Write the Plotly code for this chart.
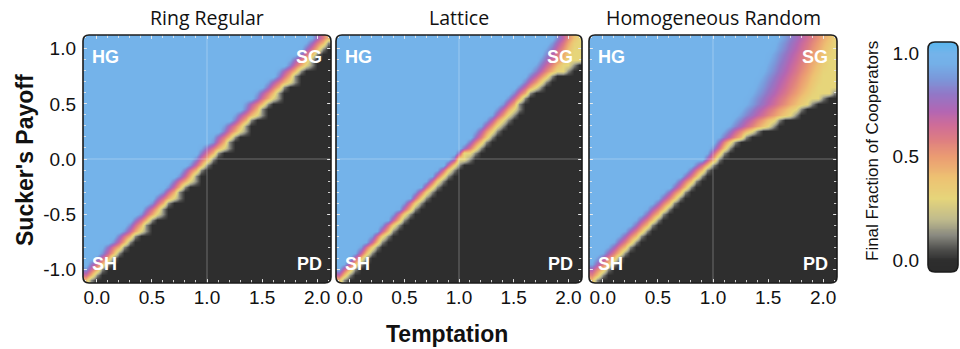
import numpy as np
import plotly.graph_objects as go

# ---------------- data ----------------
# Grid of the simulations: temptation T (columns) and sucker's payoff S (rows)
T_VALUES = [round(-0.10 + 0.05 * i, 2) for i in range(45)]
S_VALUES = [-1.10, -1.05, -1.00, -0.95, -0.90, -0.85, -0.80, -0.75, -0.70, -0.65,
            -0.60, -0.55, -0.50, -0.45, -0.40, -0.35, -0.30, -0.25, -0.20, -0.15,
            -0.10, -0.05, 0.00, 0.05, 0.10, 0.15, 0.20, 0.25, 0.30, 0.35,
            0.40, 0.45, 0.50, 0.55, 0.60, 0.65, 0.70, 0.75, 0.80, 0.85,
            0.90, 0.95, 1.00, 1.05, 1.10]

# per S row: T where full cooperation ends (t1), T where the fraction reaches
# its low level (t2), T where cooperation vanishes (t3), and that low level (v)
ring_t1 = [-0.25, -0.19, -0.13, -0.10, -0.03, 0.02, 0.04, 0.12, 0.15, 0.22,
           0.26, 0.30, 0.37, 0.40, 0.47, 0.50, 0.57, 0.62, 0.65, 0.72,
           0.75, 0.82, 0.86, 0.90, 0.93, 1.02, 1.03, 1.10, 1.12, 1.20,
           1.22, 1.30, 1.31, 1.40, 1.42, 1.49, 1.52, 1.60, 1.62, 1.70,
           1.73, 1.80, 1.84, 1.88, 1.93]
ring_t2 = [-0.07, -0.01, 0.04, 0.09, 0.14, 0.19, 0.24, 0.29, 0.34, 0.40,
           0.44, 0.49, 0.55, 0.59, 0.64, 0.70, 0.74, 0.79, 0.85, 0.89,
           0.94, 0.99, 1.04, 1.09, 1.15, 1.19, 1.24, 1.30, 1.34, 1.39,
           1.45, 1.49, 1.54, 1.60, 1.64, 1.69, 1.75, 1.79, 1.84, 1.90,
           1.94, 1.99, 2.04, 2.09, 2.14]
ring_t3 = ring_t2
ring_v = [0.28] * 45

lat_t1 = [-0.22, -0.16, -0.11, -0.06, -0.01, 0.04, 0.08, 0.14, 0.18, 0.24,
          0.28, 0.34, 0.38, 0.44, 0.48, 0.54, 0.58, 0.64, 0.69, 0.74,
          0.79, 0.85, 0.93, 0.97, 1.00, 1.05, 1.10, 1.13, 1.18, 1.23,
          1.28, 1.32, 1.37, 1.42, 1.46, 1.51, 1.55, 1.59, 1.63, 1.67,
          1.70, 1.74, 1.77, 1.81, 1.85]
lat_t2 = [-0.08, -0.03, 0.02, 0.07, 0.12, 0.17, 0.21, 0.27, 0.31, 0.37,
          0.41, 0.47, 0.51, 0.57, 0.61, 0.66, 0.71, 0.76, 0.81, 0.86,
          0.91, 0.96, 0.99, 1.05, 1.17, 1.22, 1.27, 1.31, 1.35, 1.40,
          1.45, 1.50, 1.54, 1.59, 1.64, 1.70, 1.76, 1.83, 1.90, 1.95,
          2.00, 2.02, 2.04, 2.06, 2.08]
lat_t3 = [-0.08, -0.03, 0.02, 0.07, 0.12, 0.17, 0.21, 0.27, 0.31, 0.37,
          0.41, 0.47, 0.51, 0.57, 0.61, 0.66, 0.71, 0.76, 0.81, 0.86,
          0.91, 0.96, 1.09, 1.12, 1.17, 1.22, 1.27, 1.31, 1.35, 1.40,
          1.45, 1.50, 1.54, 1.59, 1.64, 1.70, 1.76, 1.83, 1.95, 2.03,
          2.12, 2.50, 2.50, 2.50, 2.50]
lat_v = [0.3] * 45

hr_t1 = [-0.28, -0.23, -0.18, -0.12, -0.08, -0.02, 0.03, 0.08, 0.13, 0.18,
         0.24, 0.28, 0.34, 0.38, 0.44, 0.49, 0.54, 0.60, 0.64, 0.70,
         0.75, 0.81, 0.90, 0.94, 0.97, 1.00, 1.03, 1.07, 1.11, 1.15,
         1.18, 1.22, 1.26, 1.28, 1.31, 1.34, 1.36, 1.39, 1.42, 1.44,
         1.46, 1.48, 1.51, 1.53, 1.56]
hr_t2 = [-0.07, -0.02, 0.03, 0.08, 0.13, 0.18, 0.23, 0.28, 0.33, 0.38,
         0.43, 0.48, 0.53, 0.58, 0.63, 0.68, 0.73, 0.78, 0.83, 0.88,
         0.93, 0.98, 1.04, 1.07, 1.12, 1.16, 1.29, 1.35, 1.50, 1.56,
         1.70, 1.75, 1.84, 1.88, 1.92, 1.95, 1.97, 1.99, 2.01, 2.03,
         2.05, 2.07, 2.09, 2.11, 2.13]
hr_t3 = [-0.07, -0.02, 0.03, 0.08, 0.13, 0.18, 0.23, 0.28, 0.33, 0.38,
         0.43, 0.48, 0.53, 0.58, 0.63, 0.68, 0.73, 0.78, 0.83, 0.88,
         0.93, 0.98, 1.04, 1.07, 1.12, 1.16, 1.29, 1.35, 1.50, 1.56,
         1.70, 1.75, 1.88, 1.97, 2.06, 2.14, 2.50, 2.50, 2.50, 2.50,
         2.50, 2.50, 2.50, 2.50, 2.50]
hr_v = [0.3] * 45

# faint grey fringe just past the extinction edge
FRINGE_VALUE = 0.12

PANEL_TITLES = ["Ring Regular", "Lattice", "Homogeneous Random"]
CORNER_LABELS = ["HG", "SG", "SH", "PD"]
X_TICKS = [0.0, 0.5, 1.0, 1.5, 2.0]
X_TICKTEXT = ["0.0", "0.5", "1.0", "1.5", "2.0"]
Y_TICKS = [-1.0, -0.5, 0.0, 0.5, 1.0]
Y_TICKTEXT = ["-1.0", "-0.5", "0.0", "0.5", "1.0"]
CB_TICKS = [0.0, 0.5, 1.0]
CB_TICKTEXT = ["0.0", "0.5", "1.0"]

ZMIN, ZMAX = -0.058, 1.053
COLOR_STOPS = [(-0.058, "#2b2b2b"), (0.0, "#2e2e2e"), (0.05, "#4b4b49"),
               (0.12, "#8a8a80"), (0.20, "#c0bb8c"), (0.30, "#e6d57a"),
               (0.40, "#edc172"), (0.50, "#eb9c72"), (0.58, "#de7f80"),
               (0.65, "#cf6d97"), (0.72, "#b466b2"), (0.80, "#9277c6"),
               (0.88, "#7a98da"), (0.95, "#74b0e8"), (1.0, "#74b3ea"),
               (1.053, "#5ab6ee")]


def build_grid(t1, t2, t3, v):
    z = []
    for a, b, c, lo in zip(t1, t2, t3, v):
        row = []
        for t in T_VALUES:
            if t <= a:
                row.append(1.0)
            elif t <= b:
                row.append(1.0 - (1.0 - lo) * (t - a) / (b - a))
            elif t <= c:
                row.append(lo)
            elif t <= c + 0.05:
                row.append(FRINGE_VALUE)
            else:
                row.append(0.0)
        z.append(row)
    return z


colorscale = [[(val - ZMIN) / (ZMAX - ZMIN), col] for val, col in COLOR_STOPS]

panels = [build_grid(ring_t1, ring_t2, ring_t3, ring_v),
          build_grid(lat_t1, lat_t2, lat_t3, lat_v),
          build_grid(hr_t1, hr_t2, hr_t3, hr_v)]

W, H = 960, 349
px_x = [(83, 331), (336, 582), (589, 837)]
px_y = (35, 283)
cb_x = (928, 958)
cb_y = (42, 272)


def fx(p):
    return p / W


def fy(p):
    return (H - p) / H


fig = go.Figure()
for i, z in enumerate(panels):
    n = "" if i == 0 else str(i + 1)
    fig.add_trace(go.Heatmap(x=T_VALUES, y=S_VALUES, z=z, zmin=ZMIN, zmax=ZMAX,
                             colorscale=colorscale, zsmooth="best", showscale=False,
                             xaxis="x" + n, yaxis="y" + n, hoverinfo="skip"))

# colour scale strip
cb_levels = list(np.linspace(ZMIN, ZMAX, 120))
fig.add_trace(go.Heatmap(x=[0, 1], y=cb_levels, z=[[v, v] for v in cb_levels],
                         zmin=ZMIN, zmax=ZMAX, colorscale=colorscale, zsmooth="best",
                         showscale=False, xaxis="x4", yaxis="y4", hoverinfo="skip"))

SANS = "Liberation Sans, Arial, sans-serif"
tick_font = dict(family=SANS, size=19, color="#111")
tickcol = "rgba(235,235,235,0.85)"
layout = dict(width=W, height=H, margin=dict(l=0, r=0, t=0, b=0),
              paper_bgcolor="white", plot_bgcolor="white", showlegend=False)
shapes = []
annotations = []
for i in range(3):
    n = "" if i == 0 else str(i + 1)
    x0, x1 = px_x[i]
    layout["xaxis" + n] = dict(domain=[fx(x0), fx(x1)], range=[-0.125, 2.125],
                               anchor="y" + n, tickvals=X_TICKS, ticktext=X_TICKTEXT,
                               ticks="inside", ticklen=4, tickcolor=tickcol, mirror="ticks",
                               showgrid=False, zeroline=False, showline=False,
                               tickfont=tick_font, ticklabelstandoff=1,
                               minor=dict(dtick=0.1, ticks="inside", ticklen=3, tickcolor=tickcol,
                                          showgrid=False))
    layout["yaxis" + n] = dict(domain=[fy(px_y[1]), fy(px_y[0])], range=[-1.125, 1.125],
                               anchor="x" + n, tickvals=Y_TICKS, ticktext=Y_TICKTEXT,
                               showticklabels=(i == 0),
                               ticks="inside", ticklen=4, tickcolor=tickcol, mirror="ticks",
                               showgrid=False, zeroline=False, showline=False,
                               tickfont=tick_font, ticklabelstandoff=6,
                               minor=dict(dtick=0.1, ticks="inside", ticklen=3, tickcolor=tickcol,
                                          showgrid=False))
    # reference lines
    shapes.append(dict(type="line", xref="x" + n, yref="paper",
                       x0=1, x1=1, y0=fy(px_y[1]), y1=fy(px_y[0]),
                       line=dict(color="rgba(255,255,255,0.3)", width=1)))
    shapes.append(dict(type="line", xref="paper", yref="y" + n, x0=fx(x0), x1=fx(x1),
                       y0=0, y1=0, line=dict(color="rgba(255,255,255,0.3)", width=1)))
    # title
    annotations.append(dict(x=fx((x0 + x1) / 2), y=fy(17), xref="paper", yref="paper",
                            text=PANEL_TITLES[i], showarrow=False, xanchor="center",
                            yanchor="middle",
                            font=dict(family="Open Sans, sans-serif", size=19.5, color="#111")))
    # corner labels
    corner_pos = [(0.028, 0.91, "left"), (0.972, 0.91, "right"),
                  (0.028, 0.075, "left"), (0.972, 0.075, "right")]
    for lab, (cx, cy, anc) in zip(CORNER_LABELS, corner_pos):
        annotations.append(dict(x=cx, y=cy, xref="x" + n + " domain", yref="y" + n + " domain",
                                text="<b>%s</b>" % lab, showarrow=False, xanchor=anc,
                                yanchor="middle",
                                font=dict(family=SANS, size=18, color="white")))

layout["xaxis4"] = dict(domain=[fx(cb_x[0]), fx(cb_x[1])], range=[-0.5, 1.5], anchor="y4",
                        visible=False)
layout["yaxis4"] = dict(domain=[fy(cb_y[1]), fy(cb_y[0])], range=[ZMIN, ZMAX], anchor="x4",
                        tickvals=CB_TICKS, ticktext=CB_TICKTEXT, ticks="", side="left",
                        showgrid=False, zeroline=False, showline=False, tickfont=tick_font,
                        ticklabelstandoff=8)


def rounded(x0, y0, x1, y1, r):
    X = lambda p: "%.5f" % fx(p)
    Y = lambda p: "%.5f" % fy(p)
    return ("M %s,%s L %s,%s Q %s,%s %s,%s L %s,%s Q %s,%s %s,%s L %s,%s Q %s,%s %s,%s "
            "L %s,%s Q %s,%s %s,%s Z") % (
        X(x0 + r), Y(y0), X(x1 - r), Y(y0), X(x1), Y(y0), X(x1), Y(y0 + r),
        X(x1), Y(y1 - r), X(x1), Y(y1), X(x1 - r), Y(y1),
        X(x0 + r), Y(y1), X(x0), Y(y1), X(x0), Y(y1 - r),
        X(x0), Y(y0 + r), X(x0), Y(y0), X(x0 + r), Y(y0))


def corner_masks(x0, y0, x1, y1, r):
    X = lambda p: "%.5f" % fx(p)
    Y = lambda p: "%.5f" % fy(p)
    out = []
    for cx, cy, sx, sy in [(x0, y0, 1, 1), (x1, y0, -1, 1), (x0, y1, 1, -1), (x1, y1, -1, -1)]:
        out.append("M %s,%s L %s,%s L %s,%s Q %s,%s %s,%s Z" % (
            X(cx - sx * 1), Y(cy - sy * 1), X(cx + sx * r), Y(cy - sy * 1),
            X(cx + sx * r), Y(cy), X(cx), Y(cy), X(cx), Y(cy + sy * r)))
        out.append("M %s,%s L %s,%s L %s,%s Z" % (
            X(cx - sx * 1), Y(cy - sy * 1), X(cx - sx * 1), Y(cy + sy * r),
            X(cx), Y(cy + sy * r)))
    return out


boxes = [(px_x[i][0], px_y[0], px_x[i][1], px_y[1], 6) for i in range(3)]
boxes.append((cb_x[0], cb_y[0], cb_x[1], cb_y[1], 7))
for (a, b, c, d, r) in boxes:
    for p in corner_masks(a, b, c, d, r):
        shapes.append(dict(type="path", xref="paper", yref="paper", path=p,
                           fillcolor="white", line=dict(width=0)))
    shapes.append(dict(type="path", xref="paper", yref="paper", path=rounded(a, b, c, d, r),
                       line=dict(color="#1c1c1c", width=1.6)))

annotations.append(dict(x=fx(447), y=fy(334), xref="paper", yref="paper",
                        text="<b>Temptation</b>", showarrow=False,
                        xanchor="center", yanchor="middle",
                        font=dict(family=SANS, size=23, color="#111")))
annotations.append(dict(x=fx(25), y=fy(160), xref="paper", yref="paper",
                        text="<b>Sucker's Payoff</b>", showarrow=False, textangle=-90,
                        xanchor="center", yanchor="middle",
                        font=dict(family=SANS, size=23, color="#111")))
annotations.append(dict(x=fx(872), y=fy(151), xref="paper", yref="paper",
                        text="Final Fraction of Cooperators", showarrow=False, textangle=-90,
                        xanchor="center", yanchor="middle",
                        font=dict(family=SANS, size=17, color="#111")))

layout["shapes"] = shapes
layout["annotations"] = annotations
fig.update_layout(**layout)
fig.write_html("out.html")
